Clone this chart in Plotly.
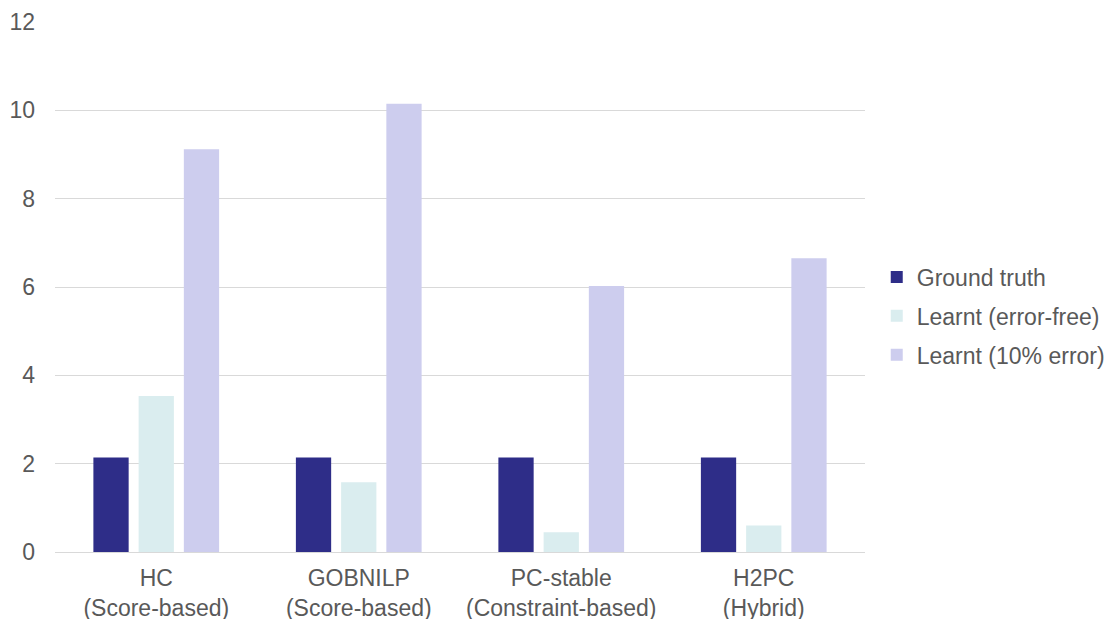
import plotly.graph_objects as go

categories = ["HC<br>(Score-based)", "GOBNILP<br>(Score-based)",
              "PC-stable<br>(Constraint-based)", "H2PC<br>(Hybrid)"]
ground_truth = [2.14, 2.14, 2.14, 2.14]
learnt_error_free = [3.53, 1.58, 0.45, 0.60]
learnt_10pct_error = [9.12, 10.15, 6.02, 6.65]

series = [
    ("Ground truth", ground_truth, "#2E2D88"),
    ("Learnt (error-free)", learnt_error_free, "#DAEDEF"),
    ("Learnt (10% error)", learnt_10pct_error, "#CDCDEE"),
]

fig = go.Figure()
for name, vals, color in series:
    fig.add_trace(go.Bar(x=categories, y=vals, name=name, legendgroup=name,
                         marker=dict(color=color, line=dict(width=0))))

FS = 23
fig.update_layout(
    width=1107, height=619,
    margin=dict(l=55, r=242, t=22, b=67),
    paper_bgcolor="white", plot_bgcolor="white",
    font=dict(family="Liberation Sans, Arial, sans-serif", size=FS, color="#595959"),
    barmode="group", bargap=0.33, bargroupgap=0.22,
    showlegend=True,
    legend=dict(xref="container", yref="container", x=0.792, y=0.4895,
                xanchor="left", yanchor="middle",
                font=dict(size=FS, color="#595959"), tracegroupgap=6,
                itemwidth=30),
    xaxis=dict(showgrid=False, showline=True, linecolor="#D9D9D9", linewidth=1,
               ticks="", automargin=False, ticklabelstandoff=5,
               tickfont=dict(size=FS, color="#595959")),
    yaxis=dict(range=[0, 12], dtick=2, showgrid=True, gridcolor="#D9D9D9",
               gridwidth=1, zeroline=False, showline=False, ticks="",
               automargin=False, ticklabelstandoff=19,
               tickfont=dict(size=FS, color="#595959")),
)

fig.write_html("out.html")
